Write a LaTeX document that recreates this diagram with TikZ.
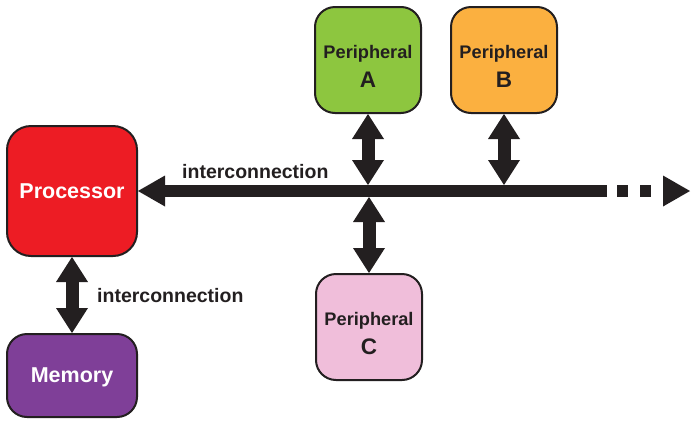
\documentclass[tikz,border=0pt]{standalone}
\usepackage{fontspec}
\setmainfont{Liberation Sans}
\usetikzlibrary{arrows.meta,calc}
\definecolor{ink}{HTML}{231F20}
\definecolor{procred}{HTML}{ED1C24}
\definecolor{pgreen}{HTML}{8DC63F}
\definecolor{porange}{HTML}{FBB040}
\definecolor{ppink}{HTML}{F0BEDA}
\definecolor{mpurple}{HTML}{7F3F98}
\begin{document}
\begin{tikzpicture}[x=1pt,y=-1pt,
  box/.style={draw=ink, line width=2pt, rounded corners=20pt, inner sep=0pt},
  bigtext/.style={text=white, text depth=0pt, font=\bfseries\fontsize{21.5}{26}\selectfont},
  ptext/.style={text=ink, inner sep=0pt, anchor=base, font=\bfseries\fontsize{18.2}{22}\selectfont},
  lettext/.style={text=ink, inner sep=0pt, anchor=base, font=\bfseries\fontsize{22.5}{26}\selectfont},
  lbl/.style={text=ink, inner sep=0pt, font=\bfseries\fontsize{19.5}{24}\selectfont},
  bhead/.tip={Triangle[width=31pt,length=27pt,line width=0pt]},
  vhead/.tip={Triangle[width=32pt,length=25pt,line width=0pt]},
  bus/.style={draw=ink, line width=12pt},
  varrow/.style={draw=ink, line width=13pt, {vhead}-{vhead}}
]
\useasboundingbox (0,0) rectangle (697,429);
\fill[white] (0,0) rectangle (697,429);

% boxes
\node[box, fill=procred, minimum width=130pt, minimum height=130pt, rounded corners=24pt, bigtext] (P) at (72,191) {Processor};
\node[box, fill=mpurple, minimum width=130pt, minimum height=83pt, bigtext] (M) at (72,375.5) {Memory};
\node[box, fill=pgreen, minimum width=106pt, minimum height=106pt] (A) at (368,60) {};
\node[box, fill=porange, minimum width=106pt, minimum height=106pt] (B) at (504,60) {};
\node[box, fill=ppink, minimum width=106pt, minimum height=106pt] (C) at (369,327) {};

\node[ptext] (At) at ($(A.center)+(0,-2)$) {Peripheral};
\node[lettext] (Al) at ($(A.center)+(0,27.5)$) {A};
\node[ptext] (Bt) at ($(B.center)+(0,-2)$) {Peripheral};
\node[lettext] (Bl) at ($(B.center)+(0,27.5)$) {B};
\node[ptext] (Ct) at ($(C.center)+(0,-2)$) {Peripheral};
\node[lettext] (Cl) at ($(C.center)+(0,27.5)$) {C};

% bus
\coordinate (busend) at (607,191);
\coordinate (dashstart) at (617,191);
\coordinate (busarrow) at (690,191);
\coordinate (bustop) at (0,185);
\coordinate (busbot) at (0,197);
\draw[bus, {bhead}-] (P.east) -- (busend);
\draw[bus, dash pattern=on 11pt off 12pt, -{bhead}] (dashstart) -- (busarrow);

% vertical arrows
\draw[varrow] (A.south) -- (A.south |- bustop);
\draw[varrow] (B.south) -- (B.south |- bustop);
\draw[varrow] (C.north |- busbot) -- (C.north);
\draw[varrow] (P.south) -- (M.north);

% labels
\node[lbl, anchor=base west] (l1) at (182,178) {interconnection};
\node[lbl, anchor=base west] (l2) at (97,302) {interconnection};
\end{tikzpicture}
\end{document}
